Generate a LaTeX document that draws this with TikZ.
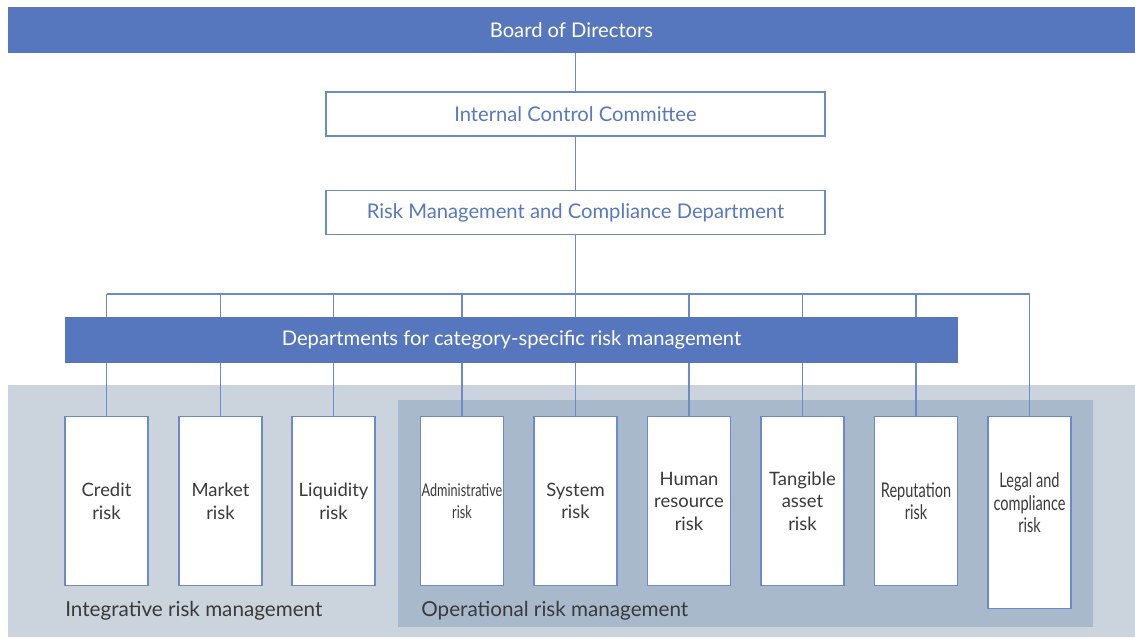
\documentclass[tikz,border=0pt]{standalone}
\usepackage{fontspec}
\setmainfont{Lato}
\newfontfamily\narrowfont[FakeStretch=0.72]{Lato}

\definecolor{barblue}{HTML}{5677BD}
\definecolor{lineblue}{HTML}{6A8ACA}
\definecolor{paleback}{HTML}{CBD4DC}
\definecolor{opback}{HTML}{A8B9CC}
\definecolor{textgrey}{HTML}{3A3A3A}
\definecolor{labelblue}{HTML}{5878C0}

\tikzset{
  bar/.style={fill=barblue, text=white, inner sep=0pt, minimum height=0.92cm,
    font=\fontsize{11.5}{14}\selectfont},
  unit/.style={draw=lineblue, line width=0.7pt, fill=white, text=labelblue,
    minimum width=9.98cm, minimum height=0.88cm, font=\fontsize{11.5}{14}\selectfont},
  riskbox/.style={draw=lineblue, line width=0.7pt, fill=white, text=textgrey,
    anchor=north, align=center, inner sep=0pt, minimum width=1.66cm, minimum height=3.38cm,
    font=\fontsize{10.5}{12.8}\selectfont},
  narrow/.style={font=\narrowfont\fontsize{11.5}{12.8}\selectfont},
  narrower/.style={font=\narrowfont\fontsize{10}{12.8}\selectfont},
  link/.style={draw=lineblue, line width=0.6pt},
  area/.style={anchor=west, text=textgrey, inner sep=0pt, font=\fontsize{11.75}{14}\selectfont}
}

\begin{document}
\begin{tikzpicture}[x=0.02cm, y=-0.02cm]
  \useasboundingbox (0,0) rectangle (1135,637);

  % shaded areas
  \fill[paleback] (8,385) rectangle (1135,637);
  \fill[opback] (398,400) rectangle (1093,627);

  % top of the chain
  \node[bar, minimum width=22.54cm] (board) at (571.5,30) {Board of Directors};
  \node[unit] (icc) at (575.5,114) {Internal Control Committee};
  \node[unit] (rmc) at (575.5,212.5) {Risk Management and Compliance Department};
  \coordinate (bus) at (575.5,294);

  % risk categories
  \node[riskbox] (credit) at (106.5,416) {Credit\\risk};
  \node[riskbox] (market) at (220.5,416) {Market\\risk};
  \node[riskbox] (liquidity) at (333.5,416) {Liquidity\\risk};
  \node[riskbox, narrower] (admin) at (462,416) {Administrative\\risk};
  \node[riskbox] (system) at (575.5,416) {System\\risk};
  \node[riskbox] (human) at (689,416) {Human\\resource\\risk};
  \node[riskbox] (tangible) at (802.5,416) {Tangible\\asset\\risk};
  \node[riskbox, narrow] (reputation) at (916,416) {Reputation\\risk};
  \node[riskbox, minimum height=3.84cm,
    label={[narrow, text=textgrey, align=center, yshift=0.19cm]center:{Legal and\\compliance\\risk}}]
    (legal) at (1029.5,416) {};

  % connectors
  \draw[link] (board.south -| icc.north) -- (icc.north);
  \draw[link] (icc.south) -- (rmc.north);
  \draw[link] (rmc.south) -- (bus);
  \draw[link] (credit.north |- bus) -- (legal.north |- bus);
  \draw[link] (credit.north |- bus) -- (credit.north);
  \draw[link] (market.north |- bus) -- (market.north);
  \draw[link] (liquidity.north |- bus) -- (liquidity.north);
  \draw[link] (admin.north |- bus) -- (admin.north);
  \draw[link] (bus) -- (system.north);
  \draw[link] (human.north |- bus) -- (human.north);
  \draw[link] (tangible.north |- bus) -- (tangible.north);
  \draw[link] (reputation.north |- bus) -- (reputation.north);
  \draw[link] (legal.north |- bus) -- (legal.north);

  % departments bar goes over the lines
  \node[bar, minimum width=17.86cm] (dept) at (511.5,340) {Departments for category-specific risk management};

  % area names
  \node[area] (integrative) at (65,611) {Integrative risk management};
  \node[area] (operational) at (421,611) {Operational risk management};
\end{tikzpicture}
\end{document}
